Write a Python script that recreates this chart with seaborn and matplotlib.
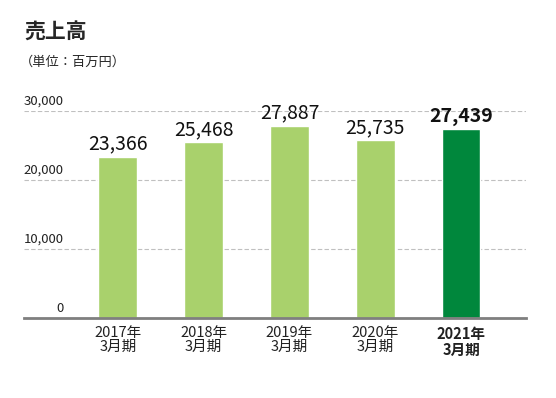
import matplotlib
matplotlib.use("Agg")
import matplotlib.pyplot as plt
import seaborn as sns
import pandas as pd

years = ["2017年\n3月期", "2018年\n3月期", "2019年\n3月期", "2020年\n3月期", "2021年\n3月期"]
sales = [23366, 25468, 27887, 25735, 27439]
value_labels = ["23,366", "25,468", "27,887", "25,735", "27,439"]
yticks = [0, 10000, 20000, 30000]
ytick_labels = ["0", "10,000", "20,000", "30,000"]

sns.set_theme(style="white")
plt.rcParams['font.family'] = ['Noto Sans CJK JP', 'DejaVu Sans']

df = pd.DataFrame({"year": years, "sales": sales})
colors = ["#a9d16c"] * 4 + ["#00873c"]

fig = plt.figure(figsize=(5.56, 3.98), dpi=100)
ax = fig.add_axes([24/556, 1-318/398, (526-24)/556, (318-111)/398])

sns.barplot(data=df, x="year", y="sales", hue="year", palette=colors, width=0.45,
            legend=False, ax=ax, saturation=1)

ax.set_xlim(-1.093, 4.756)
ax.set_ylim(0, 30000)
for s in ["top", "right", "left"]:
    ax.spines[s].set_visible(False)
ax.spines["bottom"].set_color("#7f7f7f")
ax.spines["bottom"].set_linewidth(2)

for v in yticks[1:]:
    ax.axhline(v, color="#c0c0c0", lw=0.8, ls=(0, (4, 2)), zorder=0)

ax.set_yticks([])
ax.set_xlabel("")
ax.set_ylabel("")
ax.set_xticks(range(len(years)))
ax.set_xticklabels(years, fontsize=10.5, linespacing=1.0, color="#222222")
ax.tick_params(axis="x", length=0, pad=6)
ax.get_xticklabels()[-1].set_fontweight("bold")

for v, lab in zip(yticks, ytick_labels):
    ax.text(-1.093 + 40/86, v + 500, lab, ha="right", va="bottom", fontsize=9.5, color="#222222")

for i, (v, lab) in enumerate(zip(sales, value_labels)):
    ax.text(i, v + 350, lab, ha="center", va="bottom", fontsize=14,
            fontweight="bold" if i == len(sales) - 1 else "normal", color="#111111", clip_on=False)

fig.text(24/556, 1-32/398, "売上高", fontsize=15, fontweight="bold", va="center", ha="left")
fig.text(20/556, 1-62/398, "（単位：百万円）", fontsize=9.5, va="center", ha="left")

fig.savefig("out.png", dpi=100)
